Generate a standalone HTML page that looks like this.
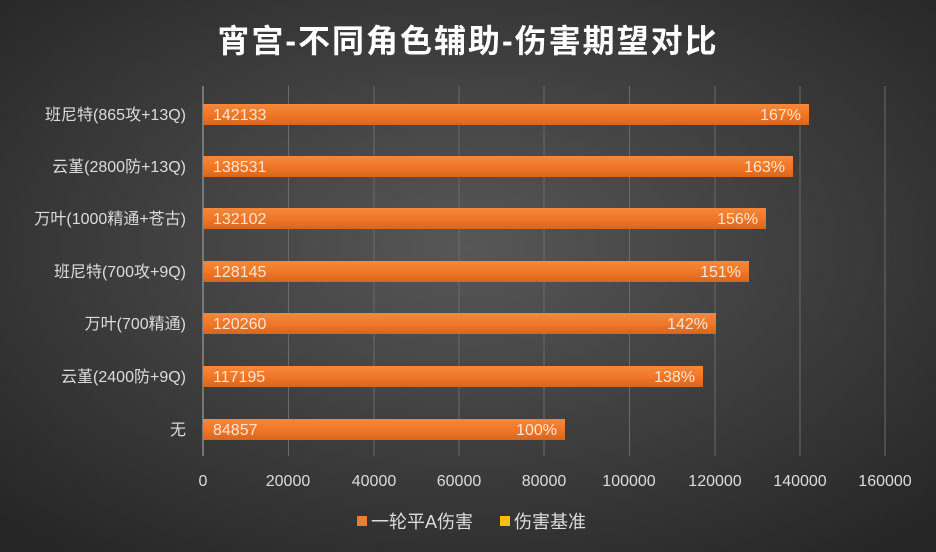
<!DOCTYPE html>
<html><head><meta charset="utf-8"><style>
body{margin:0;width:936px;height:552px;overflow:hidden}
svg{display:block}
text{font-family:"Liberation Sans","Noto Sans CJK SC",sans-serif}
</style></head><body>
<svg width="936" height="552" xmlns="http://www.w3.org/2000/svg">
<defs>
<radialGradient id="bg" cx="50%" cy="45%" r="70%">
<stop offset="0" stop-color="#575757"/><stop offset="1" stop-color="#262626"/>
</radialGradient>
<linearGradient id="bar" x1="0" y1="0" x2="0" y2="1">
<stop offset="0" stop-color="#f5883a"/><stop offset="0.5" stop-color="#f07828"/><stop offset="1" stop-color="#d9651c"/>
</linearGradient>
</defs>
<rect width="936" height="552" fill="url(#bg)"/>
<text x="468" y="52" fill="#fff" font-size="32" font-weight="bold" letter-spacing="2" text-anchor="middle">宵宫-不同角色辅助-伤害期望对比</text>
<g stroke="#6a6a6a" stroke-width="1">
<line x1="288.5" y1="86" x2="288.5" y2="456"/><line x1="374" y1="86" x2="374" y2="456"/>
<line x1="459" y1="86" x2="459" y2="456"/><line x1="544" y1="86" x2="544" y2="456"/>
<line x1="629.5" y1="86" x2="629.5" y2="456"/><line x1="715" y1="86" x2="715" y2="456"/>
<line x1="800" y1="86" x2="800" y2="456"/><line x1="885" y1="86" x2="885" y2="456"/>
</g>
<line x1="203" y1="86" x2="203" y2="456" stroke="#8a8a8a" stroke-width="1.5"/>
<g fill="url(#bar)">
<rect x="203" y="104" width="606" height="21"/>
<rect x="203" y="156" width="590" height="21"/>
<rect x="203" y="208" width="563" height="21"/>
<rect x="203" y="261" width="546" height="21"/>
<rect x="203" y="313" width="513" height="21"/>
<rect x="203" y="366" width="500" height="21"/>
<rect x="203" y="419" width="362" height="21"/>
</g>
<g fill="#fde5d4" font-size="16">
<text x="213" y="120">142133</text><text x="801" y="120" text-anchor="end">167%</text>
<text x="213" y="172">138531</text><text x="785" y="172" text-anchor="end">163%</text>
<text x="213" y="224">132102</text><text x="758" y="224" text-anchor="end">156%</text>
<text x="213" y="277">128145</text><text x="741" y="277" text-anchor="end">151%</text>
<text x="213" y="329">120260</text><text x="708" y="329" text-anchor="end">142%</text>
<text x="213" y="382">117195</text><text x="695" y="382" text-anchor="end">138%</text>
<text x="213" y="435">84857</text><text x="557" y="435" text-anchor="end">100%</text>
</g>
<g fill="#dcdcdc" font-size="16" text-anchor="end">
<text x="186" y="120">班尼特(865攻+13Q)</text>
<text x="186" y="172">云堇(2800防+13Q)</text>
<text x="186" y="224">万叶(1000精通+苍古)</text>
<text x="186" y="277">班尼特(700攻+9Q)</text>
<text x="186" y="329">万叶(700精通)</text>
<text x="186" y="382">云堇(2400防+9Q)</text>
<text x="186" y="435">无</text>
</g>
<g fill="#dcdcdc" font-size="16" text-anchor="middle">
<text x="203" y="486">0</text><text x="288" y="486">20000</text><text x="374" y="486">40000</text>
<text x="459" y="486">60000</text><text x="544" y="486">80000</text><text x="629" y="486">100000</text>
<text x="715" y="486">120000</text><text x="800" y="486">140000</text><text x="885" y="486">160000</text>
</g>
<rect x="357" y="516" width="10" height="10" fill="#ed7d31"/>
<text x="371" y="528" fill="#dcdcdc" font-size="18">一轮平A伤害</text>
<rect x="500" y="516" width="10" height="10" fill="#ffc000"/>
<text x="514" y="528" fill="#dcdcdc" font-size="18">伤害基准</text>
</svg>
</body></html>
